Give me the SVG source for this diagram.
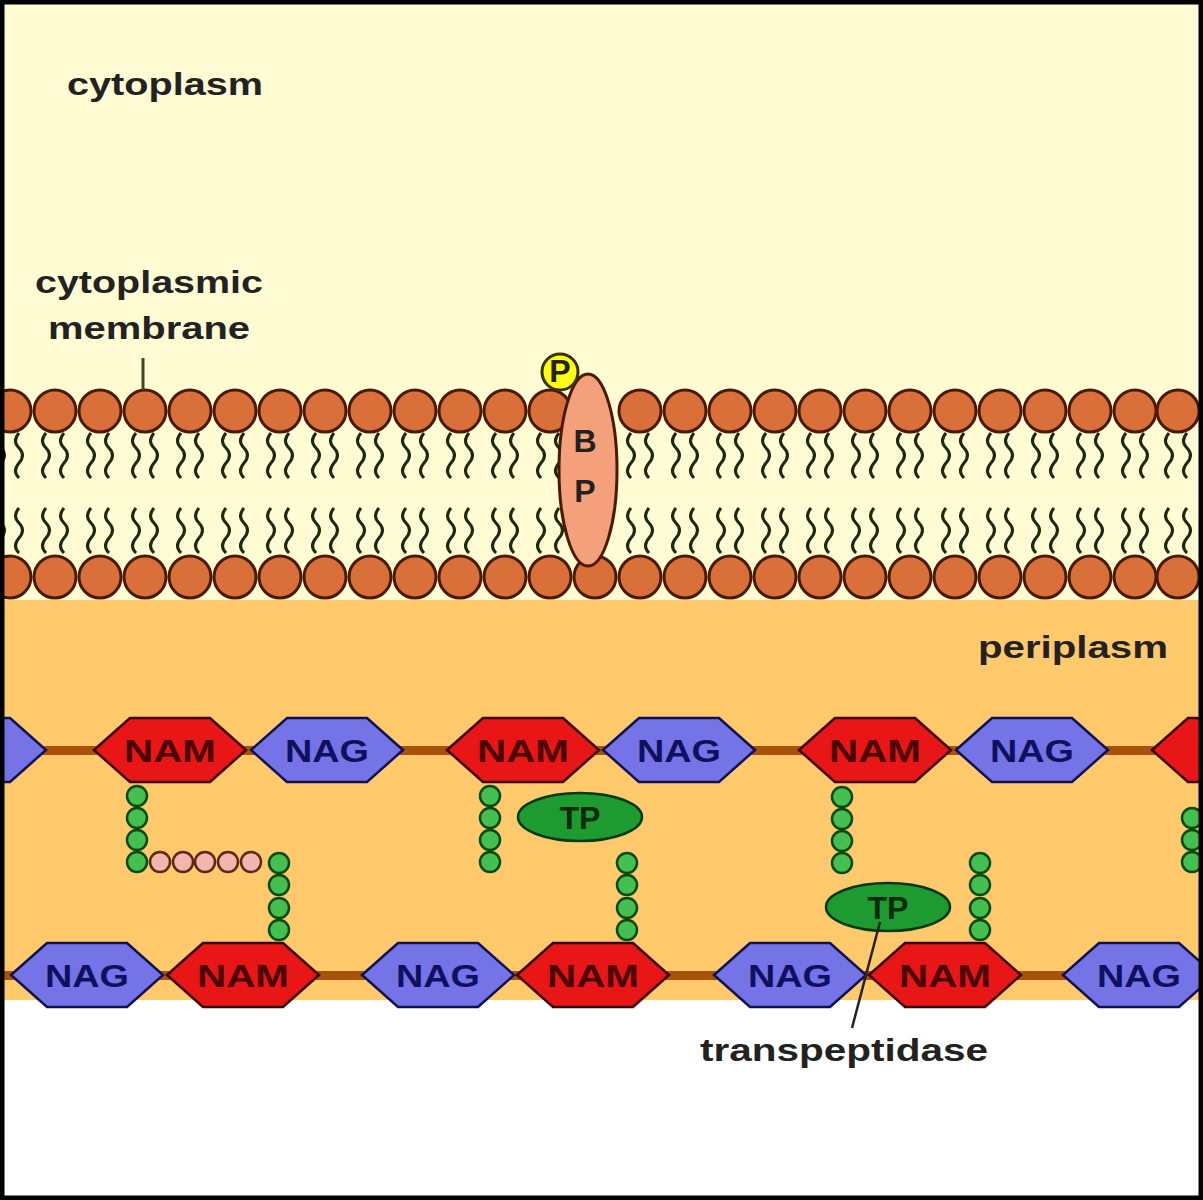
<svg xmlns="http://www.w3.org/2000/svg" xmlns:xlink="http://www.w3.org/1999/xlink" width="1203" height="1200" viewBox="0 0 1203 1200">
<style>
.lbl{font-family:"Liberation Sans",Arial,sans-serif;font-weight:bold;font-size:32px;fill:#222}
.nam{font-family:"Liberation Sans",Arial,sans-serif;font-weight:bold;font-size:32px;fill:#4a0000;text-anchor:middle}
.nag{font-family:"Liberation Sans",Arial,sans-serif;font-weight:bold;font-size:32px;fill:#101060;text-anchor:middle}
.head{fill:#D9703A;stroke:#4a1a00;stroke-width:3}
.tail{fill:none;stroke:#1e2a10;stroke-width:3}
.g{fill:#44C050;stroke:#0a4a10;stroke-width:2.5}
.pk{fill:#F4B4B0;stroke:#5a2a10;stroke-width:2.5}
.hnam{fill:#E81616;stroke:#3a0000;stroke-width:2.5}
.hnag{fill:#7474E6;stroke:#101050;stroke-width:2.5}
.tp{fill:#1E9B30;stroke:#063a0a;stroke-width:2.5}
</style>
<defs>
<g id="tails"><path class="tail" d="M-9,0 q-7,8 0,15 t0,15 t0,15"/><path class="tail" d="M9,0 q-7,8 0,15 t0,15 t0,15"/></g>
<polygon id="hex" points="-76,0 -40,-32 40,-32 76,0 40,32 -40,32"/>
</defs>
<rect width="1203" height="1200" fill="#fff"/>
<rect x="0" y="0" width="1203" height="600" fill="#FFFBD2"/>
<rect x="0" y="600" width="1203" height="400" fill="#FFC96C"/>
<g id="membrane">
<g id="tails-all">
<use xlink:href="#tails" transform="translate(10,433)"/><use xlink:href="#tails" transform="translate(10,508)"/>
<use xlink:href="#tails" transform="translate(55,433)"/><use xlink:href="#tails" transform="translate(55,508)"/>
<use xlink:href="#tails" transform="translate(100,433)"/><use xlink:href="#tails" transform="translate(100,508)"/>
<use xlink:href="#tails" transform="translate(145,433)"/><use xlink:href="#tails" transform="translate(145,508)"/>
<use xlink:href="#tails" transform="translate(190,433)"/><use xlink:href="#tails" transform="translate(190,508)"/>
<use xlink:href="#tails" transform="translate(235,433)"/><use xlink:href="#tails" transform="translate(235,508)"/>
<use xlink:href="#tails" transform="translate(280,433)"/><use xlink:href="#tails" transform="translate(280,508)"/>
<use xlink:href="#tails" transform="translate(325,433)"/><use xlink:href="#tails" transform="translate(325,508)"/>
<use xlink:href="#tails" transform="translate(370,433)"/><use xlink:href="#tails" transform="translate(370,508)"/>
<use xlink:href="#tails" transform="translate(415,433)"/><use xlink:href="#tails" transform="translate(415,508)"/>
<use xlink:href="#tails" transform="translate(460,433)"/><use xlink:href="#tails" transform="translate(460,508)"/>
<use xlink:href="#tails" transform="translate(505,433)"/><use xlink:href="#tails" transform="translate(505,508)"/>
<use xlink:href="#tails" transform="translate(550,433)"/><use xlink:href="#tails" transform="translate(550,508)"/>
<use xlink:href="#tails" transform="translate(640,433)"/><use xlink:href="#tails" transform="translate(640,508)"/>
<use xlink:href="#tails" transform="translate(685,433)"/><use xlink:href="#tails" transform="translate(685,508)"/>
<use xlink:href="#tails" transform="translate(730,433)"/><use xlink:href="#tails" transform="translate(730,508)"/>
<use xlink:href="#tails" transform="translate(775,433)"/><use xlink:href="#tails" transform="translate(775,508)"/>
<use xlink:href="#tails" transform="translate(820,433)"/><use xlink:href="#tails" transform="translate(820,508)"/>
<use xlink:href="#tails" transform="translate(865,433)"/><use xlink:href="#tails" transform="translate(865,508)"/>
<use xlink:href="#tails" transform="translate(910,433)"/><use xlink:href="#tails" transform="translate(910,508)"/>
<use xlink:href="#tails" transform="translate(955,433)"/><use xlink:href="#tails" transform="translate(955,508)"/>
<use xlink:href="#tails" transform="translate(1000,433)"/><use xlink:href="#tails" transform="translate(1000,508)"/>
<use xlink:href="#tails" transform="translate(1045,433)"/><use xlink:href="#tails" transform="translate(1045,508)"/>
<use xlink:href="#tails" transform="translate(1090,433)"/><use xlink:href="#tails" transform="translate(1090,508)"/>
<use xlink:href="#tails" transform="translate(1135,433)"/><use xlink:href="#tails" transform="translate(1135,508)"/>
<use xlink:href="#tails" transform="translate(1178,433)"/><use xlink:href="#tails" transform="translate(1178,508)"/>
</g>
<g id="heads">
<circle class="head" cx="10" cy="411" r="21"/><circle class="head" cx="55" cy="411" r="21"/><circle class="head" cx="100" cy="411" r="21"/><circle class="head" cx="145" cy="411" r="21"/><circle class="head" cx="190" cy="411" r="21"/><circle class="head" cx="235" cy="411" r="21"/><circle class="head" cx="280" cy="411" r="21"/><circle class="head" cx="325" cy="411" r="21"/><circle class="head" cx="370" cy="411" r="21"/><circle class="head" cx="415" cy="411" r="21"/><circle class="head" cx="460" cy="411" r="21"/><circle class="head" cx="505" cy="411" r="21"/><circle class="head" cx="550" cy="411" r="21"/><circle class="head" cx="640" cy="411" r="21"/><circle class="head" cx="685" cy="411" r="21"/><circle class="head" cx="730" cy="411" r="21"/><circle class="head" cx="775" cy="411" r="21"/><circle class="head" cx="820" cy="411" r="21"/><circle class="head" cx="865" cy="411" r="21"/><circle class="head" cx="910" cy="411" r="21"/><circle class="head" cx="955" cy="411" r="21"/><circle class="head" cx="1000" cy="411" r="21"/><circle class="head" cx="1045" cy="411" r="21"/><circle class="head" cx="1090" cy="411" r="21"/><circle class="head" cx="1135" cy="411" r="21"/><circle class="head" cx="1178" cy="411" r="21"/>
<circle class="head" cx="10" cy="577" r="21"/><circle class="head" cx="55" cy="577" r="21"/><circle class="head" cx="100" cy="577" r="21"/><circle class="head" cx="145" cy="577" r="21"/><circle class="head" cx="190" cy="577" r="21"/><circle class="head" cx="235" cy="577" r="21"/><circle class="head" cx="280" cy="577" r="21"/><circle class="head" cx="325" cy="577" r="21"/><circle class="head" cx="370" cy="577" r="21"/><circle class="head" cx="415" cy="577" r="21"/><circle class="head" cx="460" cy="577" r="21"/><circle class="head" cx="505" cy="577" r="21"/><circle class="head" cx="550" cy="577" r="21"/><circle class="head" cx="595" cy="577" r="21"/><circle class="head" cx="640" cy="577" r="21"/><circle class="head" cx="685" cy="577" r="21"/><circle class="head" cx="730" cy="577" r="21"/><circle class="head" cx="775" cy="577" r="21"/><circle class="head" cx="820" cy="577" r="21"/><circle class="head" cx="865" cy="577" r="21"/><circle class="head" cx="910" cy="577" r="21"/><circle class="head" cx="955" cy="577" r="21"/><circle class="head" cx="1000" cy="577" r="21"/><circle class="head" cx="1045" cy="577" r="21"/><circle class="head" cx="1090" cy="577" r="21"/><circle class="head" cx="1135" cy="577" r="21"/><circle class="head" cx="1178" cy="577" r="21"/>
</g>
</g>
<g id="pbp">
<ellipse cx="588" cy="470" rx="29" ry="96" fill="#F4A07A" stroke="#4a1a00" stroke-width="3"/>
<text class="lbl" x="585" y="452" text-anchor="middle">B</text>
<text class="lbl" x="585" y="502" text-anchor="middle">P</text>
<circle cx="560" cy="372" r="18" fill="#FFFF10" stroke="#3a3000" stroke-width="3"/>
<text class="lbl" x="560" y="382" text-anchor="middle" font-size="26">P</text>
</g>
<g id="glycan">
<rect x="0" y="746" width="1203" height="9" fill="#A8520C"/>
<rect x="0" y="971" width="1203" height="9" fill="#A8520C"/>
<use xlink:href="#hex" class="hnag" x="-30" y="750"/>
<use xlink:href="#hex" class="hnam" x="170" y="750"/><text class="nam" x="170" y="762" textLength="92" lengthAdjust="spacingAndGlyphs">NAM</text>
<use xlink:href="#hex" class="hnag" x="327" y="750"/><text class="nag" x="327" y="762" textLength="84" lengthAdjust="spacingAndGlyphs">NAG</text>
<use xlink:href="#hex" class="hnam" x="523" y="750"/><text class="nam" x="523" y="762" textLength="92" lengthAdjust="spacingAndGlyphs">NAM</text>
<use xlink:href="#hex" class="hnag" x="679" y="750"/><text class="nag" x="679" y="762" textLength="84" lengthAdjust="spacingAndGlyphs">NAG</text>
<use xlink:href="#hex" class="hnam" x="875" y="750"/><text class="nam" x="875" y="762" textLength="92" lengthAdjust="spacingAndGlyphs">NAM</text>
<use xlink:href="#hex" class="hnag" x="1032" y="750"/><text class="nag" x="1032" y="762" textLength="84" lengthAdjust="spacingAndGlyphs">NAG</text>
<use xlink:href="#hex" class="hnam" x="1228" y="750"/>
<use xlink:href="#hex" class="hnag" x="87" y="975"/><text class="nag" x="87" y="987" textLength="84" lengthAdjust="spacingAndGlyphs">NAG</text>
<use xlink:href="#hex" class="hnam" x="243" y="975"/><text class="nam" x="243" y="987" textLength="92" lengthAdjust="spacingAndGlyphs">NAM</text>
<use xlink:href="#hex" class="hnag" x="438" y="975"/><text class="nag" x="438" y="987" textLength="84" lengthAdjust="spacingAndGlyphs">NAG</text>
<use xlink:href="#hex" class="hnam" x="593" y="975"/><text class="nam" x="593" y="987" textLength="92" lengthAdjust="spacingAndGlyphs">NAM</text>
<use xlink:href="#hex" class="hnag" x="790" y="975"/><text class="nag" x="790" y="987" textLength="84" lengthAdjust="spacingAndGlyphs">NAG</text>
<use xlink:href="#hex" class="hnam" x="945" y="975"/><text class="nam" x="945" y="987" textLength="92" lengthAdjust="spacingAndGlyphs">NAM</text>
<use xlink:href="#hex" class="hnag" x="1139" y="975"/><text class="nag" x="1139" y="987" textLength="84" lengthAdjust="spacingAndGlyphs">NAG</text>
</g>
<g id="peptides">
<circle class="g" cx="137" cy="796" r="10"/><circle class="g" cx="137" cy="818" r="10"/><circle class="g" cx="137" cy="840" r="10"/><circle class="g" cx="137" cy="862" r="10"/>
<circle class="pk" cx="160" cy="862" r="10"/><circle class="pk" cx="183" cy="862" r="10"/><circle class="pk" cx="205" cy="862" r="10"/><circle class="pk" cx="228" cy="862" r="10"/><circle class="pk" cx="251" cy="862" r="10"/>
<circle class="g" cx="279" cy="863" r="10"/><circle class="g" cx="279" cy="885" r="10"/><circle class="g" cx="279" cy="908" r="10"/><circle class="g" cx="279" cy="930" r="10"/>
<circle class="g" cx="490" cy="796" r="10"/><circle class="g" cx="490" cy="818" r="10"/><circle class="g" cx="490" cy="840" r="10"/><circle class="g" cx="490" cy="862" r="10"/>
<circle class="g" cx="627" cy="863" r="10"/><circle class="g" cx="627" cy="885" r="10"/><circle class="g" cx="627" cy="908" r="10"/><circle class="g" cx="627" cy="930" r="10"/>
<circle class="g" cx="842" cy="797" r="10"/><circle class="g" cx="842" cy="819" r="10"/><circle class="g" cx="842" cy="841" r="10"/><circle class="g" cx="842" cy="863" r="10"/>
<circle class="g" cx="980" cy="863" r="10"/><circle class="g" cx="980" cy="885" r="10"/><circle class="g" cx="980" cy="908" r="10"/><circle class="g" cx="980" cy="930" r="10"/>
<circle class="g" cx="1192" cy="818" r="10"/><circle class="g" cx="1192" cy="840" r="10"/><circle class="g" cx="1192" cy="862" r="10"/>
</g>
<g id="tp1"><ellipse class="tp" cx="580" cy="817" rx="62" ry="24"/><text class="lbl" x="580" y="829" text-anchor="middle" style="fill:#0a2a0a">TP</text></g>
<g id="tp2"><ellipse class="tp" cx="888" cy="907" rx="62" ry="24"/><text class="lbl" x="888" y="919" text-anchor="middle" style="fill:#0a2a0a">TP</text></g>
<g id="connectors">
<line x1="143" y1="358" x2="143" y2="390" stroke="#3a4a2a" stroke-width="3"/>
<line x1="880" y1="922" x2="852" y2="1028" stroke="#222" stroke-width="2.5"/>
</g>
<g id="labels">
<text class="lbl" x="67" y="95" textLength="196" lengthAdjust="spacingAndGlyphs">cytoplasm</text>
<text class="lbl" x="35" y="293" textLength="228" lengthAdjust="spacingAndGlyphs">cytoplasmic</text>
<text class="lbl" x="48" y="339" textLength="202" lengthAdjust="spacingAndGlyphs">membrane</text>
<text class="lbl" x="978" y="658" textLength="190" lengthAdjust="spacingAndGlyphs">periplasm</text>
<text class="lbl" x="700" y="1061" textLength="288" lengthAdjust="spacingAndGlyphs">transpeptidase</text>
</g>
<rect x="2" y="2" width="1199" height="1196" fill="none" stroke="#000" stroke-width="5"/>
</svg>
